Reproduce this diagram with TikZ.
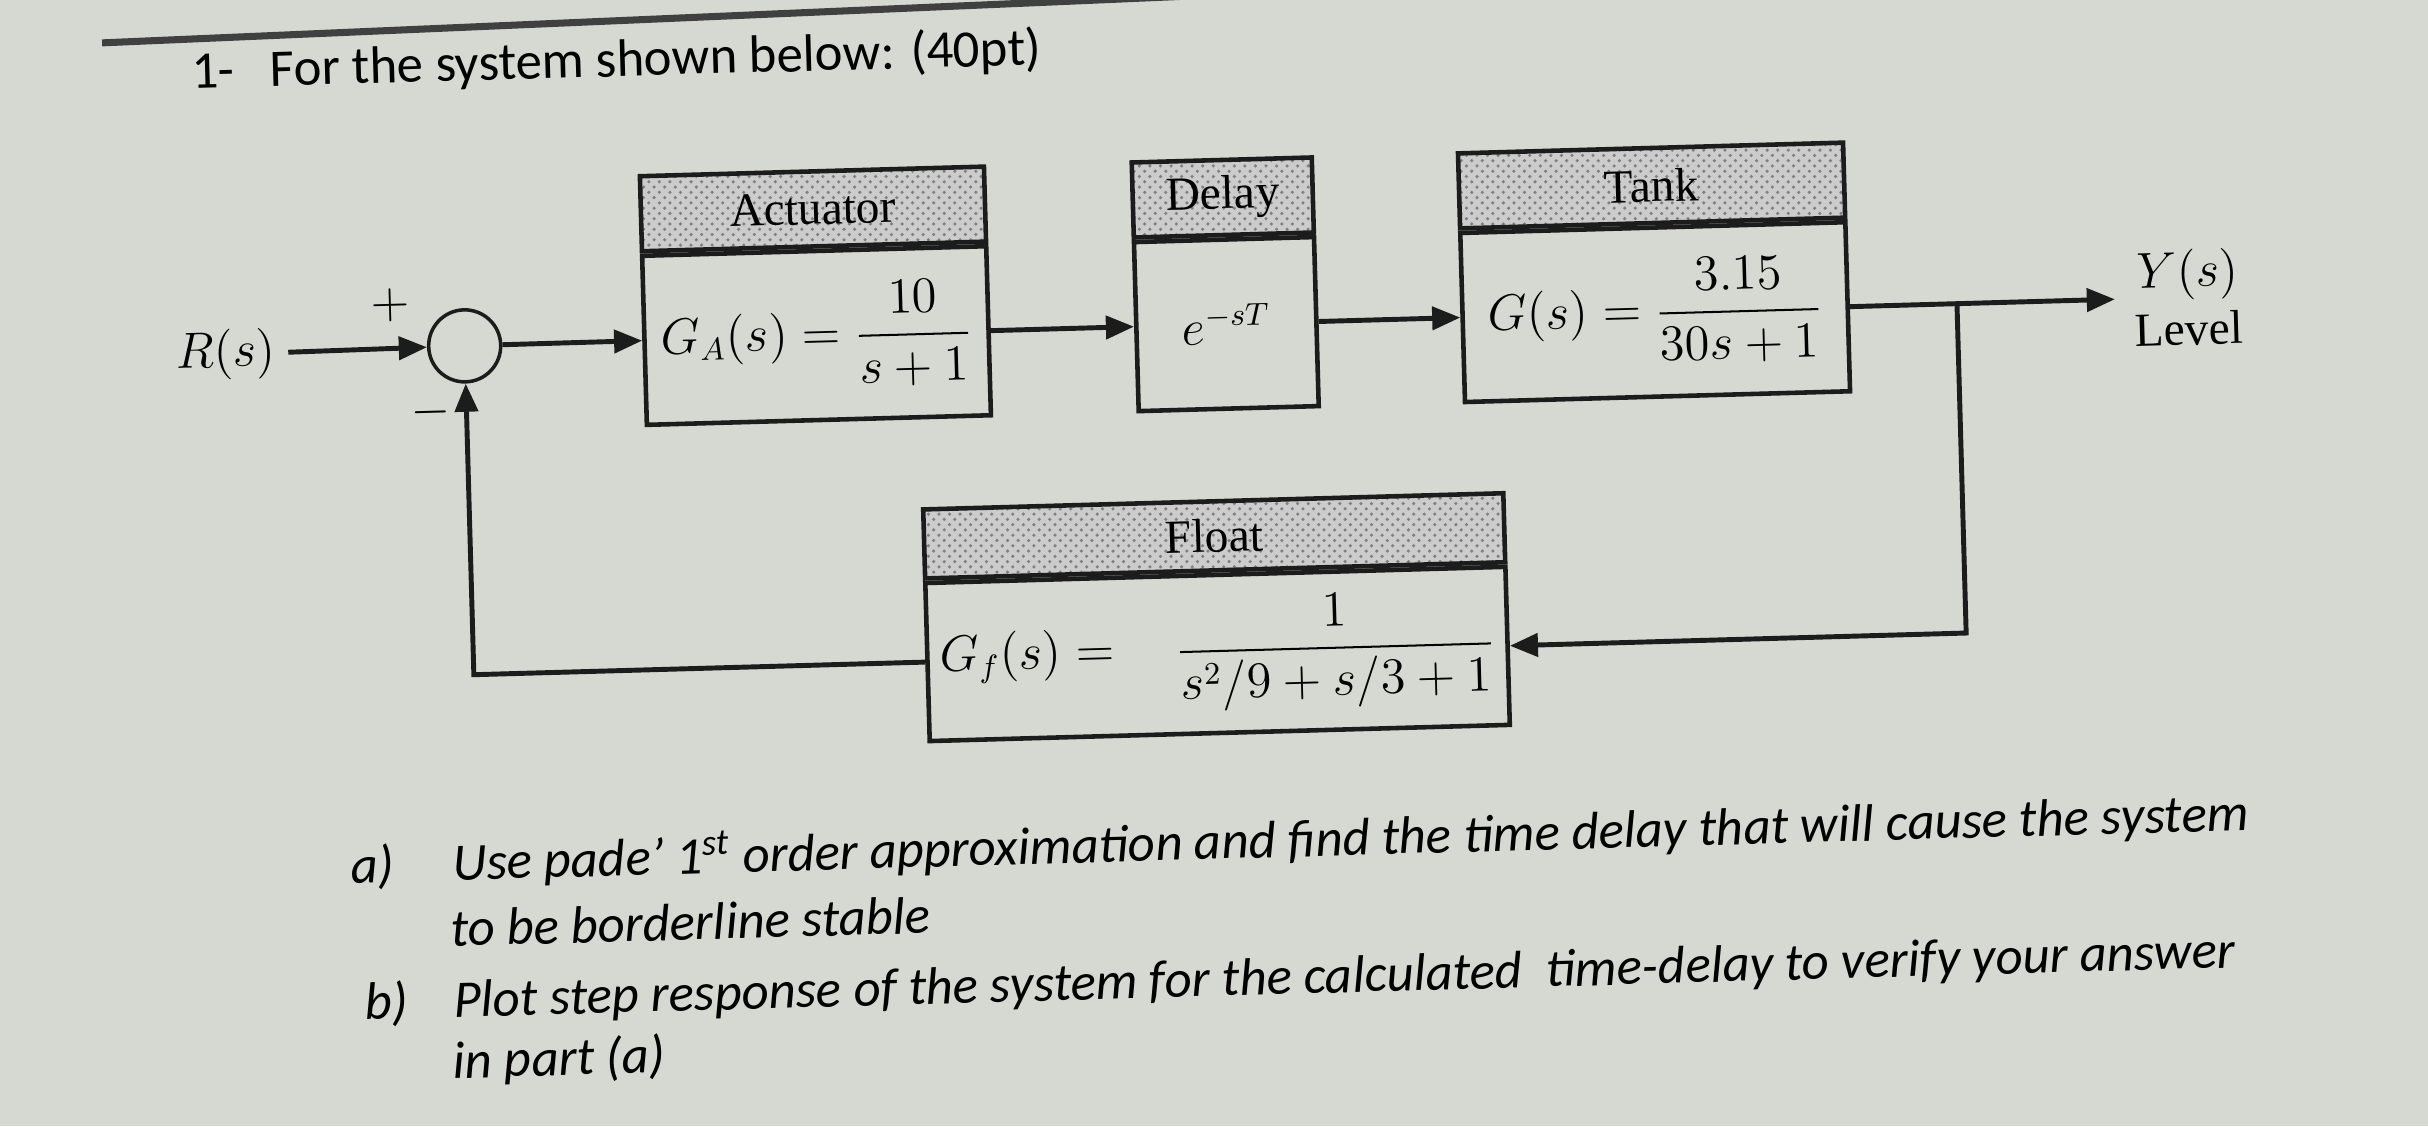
\documentclass[tikz,border=0pt]{standalone}
\usepackage{amsmath}
\usepackage{fontspec}
\newfontfamily\calib{Carlito}
\newfontfamily\tms{Liberation Serif}
\usetikzlibrary{arrows.meta,positioning,patterns}
\definecolor{paper}{RGB}{214,217,209}
\definecolor{ink}{RGB}{28,28,28}
\begin{document}
\begin{tikzpicture}[x=0.01cm,y=-0.01cm,
    blk/.style={draw=ink,line width=1.3pt,minimum height=1.69cm,inner sep=0pt},
    hdr/.style={draw=ink,line width=1.3pt,minimum height=0.75cm,inner sep=0pt,
      preaction={fill=black!20},pattern=crosshatch dots,pattern color=black!50},
    sig/.style={draw=ink,line width=1.4pt,-{Triangle[length=8pt,width=6.5pt]}},
    qtxt/.style={anchor=base west,inner sep=0pt,font=\calib\itshape\fontsize{15}{18}\selectfont}]
    \useasboundingbox (0,0) rectangle (2428,1126);
    \clip (0,0) rectangle (2428,1126);
    \fill[paper] (0,0) rectangle (2428,1126);
    \begin{scope}[rotate around={1.6:(1214,563)},transform shape,
        every node/.append style={font=\tms\fontsize{13.5}{16.5}\selectfont}]
    \draw[black!75,line width=2pt] (117,12) -- (2500,-24);
    \node[anchor=base west,inner sep=0pt,font=\calib\fontsize{15}{18}\selectfont] (ttl) at (205,60)
        {1-\hspace{0.36cm}For the system shown below: (40pt)};

    \node (R) at (232,327) {$R(s)$};
    \node[circle,draw=ink,line width=1pt,minimum size=0.72cm,inner sep=0pt] (sum) at (471,325) {};
    \node (plus) at (398,282) {$+$};
    \node (minus) at (435,390) {$-$};

    \node[blk,minimum width=3.44cm] (act) at (823,324.5) {$G_A(s)=\dfrac{10}{s+1}$};
    \node[hdr,minimum width=3.44cm,above=0pt of act] (acth) {Actuator};
    \node[blk,minimum width=1.80cm] (del) at (1233,324.5) {$e^{-sT}$};
    \node[hdr,minimum width=1.80cm,above=0pt of del] (delh) {Delay};
    \node[blk,minimum width=3.85cm] (tank) at (1662,324.5) {$G(s)=\dfrac{3.15}{30s+1}$};
    \node[hdr,minimum width=3.85cm,above=0pt of tank] (tankh) {Tank};
    \node[blk,minimum width=5.80cm,minimum height=1.58cm] (flt) at (1215,654) {$G_f(s)=\quad\dfrac{1}{s^2/9+s/3+1}$};
    \node[hdr,minimum width=5.80cm,minimum height=0.69cm,above=0pt of flt] (flth) {Float};

    \coordinate (br) at (1964,324.5);
    \coordinate (out) at (2122,324.5);
    \node[align=center,right=2pt of out] (yout) {$Y(s)$\\Level};

    \draw[sig] (R) -- (sum);
    \draw[sig] (sum) -- (act);
    \draw[sig] (act) -- (del);
    \draw[sig] (del) -- (tank);
    \draw[sig] (tank) -- (out);
    \draw[sig] (br) |- (flt.east);
    \draw[sig] (flt.west) -| (sum.south);

    \node[qtxt] (qal) at (342,859) {a)};
    \node[qtxt] (qa1) at (444,859) {Use pade’ 1\textsuperscript{st} order approximation and find the time delay that will cause the system};
    \node[qtxt] (qa2) at (440,925) {to be borderline stable};
    \node[qtxt] (qbl) at (352,996) {b)};
    \node[qtxt] (qb1) at (441,996) {Plot step response of the system for the calculated\ \ time-delay to verify your answer};
    \node[qtxt] (qb2) at (439,1057) {in part (a)};
    \end{scope}
\end{tikzpicture}
\end{document}
